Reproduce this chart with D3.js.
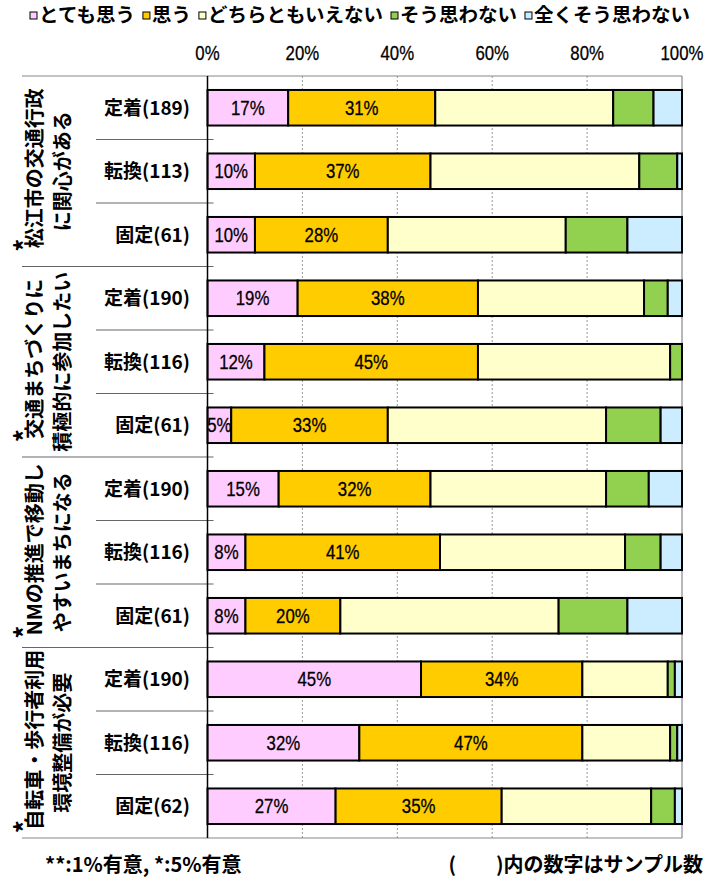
<!DOCTYPE html>
<html>
<head>
<meta charset="utf-8">
<script src="https://cdn.jsdelivr.net/npm/d3@7"></script>
<style>
  body { margin: 0; background: #fff; }
  svg { display: block; }
</style>
</head>
<body>
<div id="chart"></div>
<script>
// ---- data ----
const categories = ["定着(189)", "転換(113)", "固定(61)",
                    "定着(190)", "転換(116)", "固定(61)",
                    "定着(190)", "転換(116)", "固定(61)",
                    "定着(190)", "転換(116)", "固定(62)"];
const groupLines = [["松江市の交通行政", "に関心がある"],
                    ["交通まちづくりに", "積極的に参加したい"],
                    ["NMの推進で移動し", "やすいまちになる"],
                    ["自転車・歩行者利用", "環境整備が必要"]];
const groupMarks = ["*", "*", "*", "*"];
const seriesNames = ["とても思う", "思う", "どちらともいえない", "そう思わない", "全くそう思わない"];
const seriesColors = ["#FFCCFF", "#FFCC00", "#FFFFCC", "#92D050", "#CCECFF"];
const veryMuch         = [17, 10, 10, 19, 12, 5, 15, 8, 8, 45, 32, 27];
const agree            = [31, 37, 28, 38, 45, 33, 32, 41, 20, 34, 47, 35];
const neutral          = [37.5, 44, 37.5, 35, 40.5, 46, 37, 39, 46, 18, 18.5, 31.5];
const disagree         = [8.5, 8, 13, 5, 2.5, 11.5, 9, 7.5, 14.5, 1.5, 1.5, 5];
const stronglyDisagree = [6, 1, 11.5, 3, 0, 4.5, 7, 4.5, 11.5, 1.5, 1, 1.5];
const labeledSeries = [0, 1];
const tickValues = [0, 20, 40, 60, 80, 100];
const footLeft = "**:1%有意, *:5%有意";
const footRight = "(　　)内の数字はサンプル数";

// ---- layout ----
const W = 709, H = 883;
const plot = { left: 207.5, right: 682, top: 76, bottom: 838 };
const labelLeft = 22, catLineLeft = 96;
const jp = "'Noto Sans CJK JP', sans-serif";
const num = "'Liberation Sans', Arial, sans-serif";

const rows = categories.map((c, i) => ({
  key: i, cat: c,
  s0: veryMuch[i], s1: agree[i], s2: neutral[i], s3: disagree[i], s4: stronglyDisagree[i]
}));
const keys = ["s0", "s1", "s2", "s3", "s4"];
const stacked = d3.stack().keys(keys)(rows);

const x = d3.scaleLinear().domain([0, 100]).range([plot.left, plot.right]);
const y = d3.scaleBand().domain(d3.range(categories.length)).range([plot.top, plot.bottom]);
const barH = y.bandwidth() * 0.56;
const barOff = (y.bandwidth() - barH) / 2;

const svg = d3.select("#chart").append("svg").attr("width", W).attr("height", H);

// gridlines
svg.append("g").selectAll("line").data(tickValues.filter(v => v > 0 && v < 100)).join("line")
  .attr("x1", d => x(d)).attr("x2", d => x(d))
  .attr("y1", plot.top).attr("y2", plot.bottom)
  .attr("stroke", "#999").attr("stroke-width", 1).attr("stroke-dasharray", "2,2");

// frame around plot + label area
const frame = svg.append("g").attr("stroke", "#888").attr("stroke-width", 1.2);
frame.append("line").attr("x1", labelLeft).attr("x2", plot.right).attr("y1", plot.top).attr("y2", plot.top);
frame.append("line").attr("x1", plot.right).attr("x2", plot.right).attr("y1", plot.top).attr("y2", plot.bottom);
frame.append("line").attr("x1", labelLeft).attr("x2", plot.right).attr("y1", plot.bottom).attr("y2", plot.bottom);

// group separators and category separators in the label area
const boundaries = d3.range(1, categories.length);
svg.append("g").selectAll("line").data(boundaries).join("line")
  .attr("x1", d => d % 3 === 0 ? labelLeft : catLineLeft)
  .attr("x2", plot.left + 6)
  .attr("y1", d => y(d)).attr("y2", d => y(d))
  .attr("stroke", "#666").attr("stroke-width", 1.2);

// bars
const segG = svg.append("g");
stacked.forEach((layer, si) => {
  segG.append("g").selectAll("rect").data(layer.filter(d => d[1] - d[0] > 0)).join("rect")
    .attr("x", d => x(d[0]))
    .attr("width", d => x(d[1]) - x(d[0]))
    .attr("y", d => y(d.data.key) + barOff)
    .attr("height", barH)
    .attr("fill", seriesColors[si])
    .attr("stroke", "#000").attr("stroke-width", 2);
});

// value labels (horizontally condensed digits)
labeledSeries.forEach(si => {
  segG.append("g").selectAll("text").data(stacked[si]).join("text")
    .attr("transform", d => `translate(${(x(d[0]) + x(d[1])) / 2},${y(d.data.key) + y.bandwidth() / 2 + 7}) scale(0.8,1)`)
    .attr("text-anchor", "middle")
    .attr("font-family", num).attr("font-size", 21).attr("fill", "#000")
    .attr("stroke", "#000").attr("stroke-width", 0.3)
    .text(d => d3.format(".0f")(d[1] - d[0]) + "%");
});

// y axis line
svg.append("line").attr("x1", plot.left).attr("x2", plot.left)
  .attr("y1", plot.top).attr("y2", plot.bottom)
  .attr("stroke", "#000").attr("stroke-width", 1.5);

// x axis tick labels
svg.append("g").selectAll("text").data(tickValues).join("text")
  .attr("transform", d => `translate(${x(d)},60) scale(0.8,1)`)
  .attr("text-anchor", "middle")
  .attr("font-family", num).attr("font-size", 21).attr("fill", "#000")
  .attr("stroke", "#000").attr("stroke-width", 0.3)
  .text(d => d + "%");

// category labels
svg.append("g").selectAll("text").data(categories).join("text")
  .attr("x", 190).attr("y", (d, i) => y(i) + y.bandwidth() / 2)
  .attr("dy", "0.36em")
  .attr("text-anchor", "end")
  .attr("font-family", jp).attr("font-size", 19).attr("font-weight", "bold")
  .text(d => d);

// group labels, rotated; the significance mark sits raised before the first line
const groupH = y.bandwidth() * 3;
groupLines.forEach((lines, gi) => {
  const cy = plot.top + groupH * gi + groupH / 2;
  const g = svg.append("g").attr("transform", `translate(0,${cy}) rotate(-90)`);
  const t1 = g.append("text").attr("x", 3).attr("y", 35).attr("dy", "0.36em")
    .attr("text-anchor", "middle").attr("font-family", jp).attr("font-size", 20).attr("font-weight", "bold")
    .text(lines[0]);
  const len = t1.node().getComputedTextLength();
  g.append("text").attr("x", 3 - len / 2 + 3).attr("y", 25).attr("dy", "0.36em")
    .attr("text-anchor", "middle").attr("font-family", jp).attr("font-size", 26).attr("font-weight", "bold")
    .text(groupMarks[gi]);
  g.append("text").attr("x", 0).attr("y", 63).attr("dy", "0.36em")
    .attr("text-anchor", "middle").attr("font-family", jp).attr("font-size", 20).attr("font-weight", "bold")
    .text(lines[1]);
});

// legend
const leg = svg.append("g");
let lx = 30;
const legendFont = 19.5;
const items = seriesNames.map((n, i) => {
  const g = leg.append("g");
  g.append("rect").attr("x", 0).attr("y", 12).attr("width", 7).attr("height", 7)
    .attr("fill", seriesColors[i]).attr("stroke", "#000").attr("stroke-width", 1);
  const t = g.append("text").attr("x", 9).attr("y", 22)
    .attr("font-family", jp).attr("font-size", legendFont).attr("font-weight", "bold").text(n);
  return { g, w: 9 + t.node().getComputedTextLength() };
});
const totalW = d3.sum(items, d => d.w);
const gap = (690 - 30 - totalW) / (items.length - 1);
items.forEach(it => { it.g.attr("transform", `translate(${lx},0)`); lx += it.w + gap; });

// footnotes
svg.append("text").attr("x", 45).attr("y", 872)
  .attr("font-family", jp).attr("font-size", 20).attr("font-weight", "bold").text(footLeft);
svg.append("text").attr("x", 703).attr("y", 872).attr("text-anchor", "end")
  .attr("font-family", jp).attr("font-size", 20).attr("font-weight", "bold").text(footRight);
</script>
</body>
</html>
